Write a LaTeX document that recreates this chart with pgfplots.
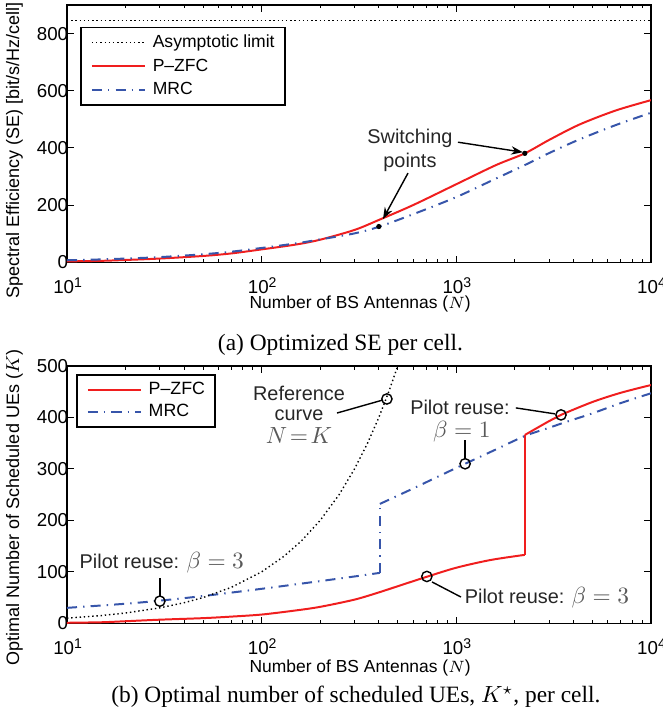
\documentclass[border=0pt]{standalone}
\usepackage{pgfplots}
\pgfplotsset{compat=1.18}
\usepackage{fontspec}
\setmainfont{Liberation Sans}
\newfontfamily\capfont{Liberation Serif}
\usetikzlibrary{arrows.meta}
\definecolor{zfred}{RGB}{240,30,30}
\definecolor{mrcblue}{RGB}{55,85,170}
\newcommand{\annfont}{\fontsize{8.5}{10.3}\selectfont}
\newcommand{\annmath}{\fontsize{9.6}{11}\selectfont}

\tikzset{
  zfcline/.style={zfred, line width=0.85pt, solid},
  mrcline/.style={mrcblue, line width=0.85pt, dash pattern=on 4.3pt off 2.6pt on 0.6pt off 2.6pt},
  refdots/.style={black, line width=0.6pt, dash pattern=on 0.6pt off 1.2pt},
}

\begin{document}
\begin{tikzpicture}
\path[use as bounding box] (0,0) rectangle (283.3pt,-307.3pt);

% ---------------- (a) ----------------
\begin{axis}[
  xmode=log,
  scale only axis, width=249.57pt, height=109.96pt,
  xmin=10, xmax=10000,
  xtick={10,100,1000,10000},
  xticklabels={10\textsuperscript{1},10\textsuperscript{2},10\textsuperscript{3},10\textsuperscript{4}},
  minor xtick={20,30,40,50,60,70,80,90,200,300,400,500,600,700,800,900,2000,3000,4000,5000,6000,7000,8000,9000},
  tick align=inside,
  major tick length=2.8pt, minor tick length=1.5pt,
  every tick/.style={black, line width=0.45pt},
  axis line style={line width=0.65pt},
  tick label style={font=\fontsize{8}{9.6}\selectfont},
  yticklabel style={xshift=4pt},
  yticklabel={\pgfmathprintnumber[assume math mode=true]{\tick}},
  xticklabel style={yshift=-3pt, xshift=0.5pt},
  xlabel={Number of BS Antennas ($N$)},
  xlabel style={font=\fontsize{7.45}{9}\selectfont, at={(axis description cs:0.502,-0.162)}, anchor=center},
  at={(28.63pt,-112.09pt)}, anchor=south west,
  ymin=0, ymax=900, ytick={0,200,400,600,800},
  ylabel={Spectral Efficiency ($\mathrm{SE}$) [bit/s/Hz/cell]},
  ylabel style={font=\fontsize{7.7}{9}\selectfont, at={(axis description cs:-0.0899,0.436)}, anchor=center},
  legend image code/.code={\draw[#1] (0pt,0pt) -- (22.6pt,0pt);},
  legend cell align=left,
  legend style={at={(0.0223,0.9157)}, anchor=north west,
    draw=black, line width=0.7pt,
    font=\fontsize{7.5}{9}\selectfont,
    inner xsep=4.3pt, inner ysep=2.9pt, row sep=2.9pt,
    nodes={inner sep=0pt, text height=5.6pt, text depth=1.6pt},
    /tikz/every odd column/.append style={column sep=3pt}},
]
\addplot[refdots] coordinates {(10,845) (10000,845)};
\addlegendentry{Asymptotic limit}
\addplot[zfcline, smooth] coordinates {
(10,3) (15,5) (20,8) (30,13) (50,22) (70,31) (100,45) (150,62) (200,79)
(300,113) (400,148) (600,200) (1000,273) (1600,340) (2250,381) (3000,428)
(4300,482) (6600,531) (10000,567)};
\addlegendentry{P--ZFC}
\addplot[mrcline, smooth] coordinates {
(10,7) (15,10) (20,13) (30,18) (50,28) (70,37) (100,50) (150,66) (200,80)
(300,101) (400,124) (600,168) (1000,228) (1600,293) (2250,340) (3000,382)
(4300,430) (6600,480) (10000,523)};
\addlegendentry{MRC}
\addplot[only marks, mark=*, mark size=0.9pt, black, forget plot] coordinates {(400,125) (2250,381)};
\node[font=\annfont, align=center, text=black!85] at (axis cs:578,392) {Switching\\points};
\draw[-{Stealth[length=5pt,width=3.6pt]}, line width=0.6pt] (axis cs:1020,420) -- (axis cs:2198,385);
\draw[-{Stealth[length=5pt,width=3.6pt]}, line width=0.6pt] (axis cs:565,312) -- (axis cs:420,151);
\end{axis}

\node[font=\capfont\fontsize{10}{12}\selectfont] at (145.5pt,-147.4pt) {(a) Optimized SE per cell.};

% ---------------- (b) ----------------
\begin{axis}[
  xmode=log,
  scale only axis, width=249.57pt, height=109.96pt,
  xmin=10, xmax=10000,
  xtick={10,100,1000,10000},
  xticklabels={10\textsuperscript{1},10\textsuperscript{2},10\textsuperscript{3},10\textsuperscript{4}},
  minor xtick={20,30,40,50,60,70,80,90,200,300,400,500,600,700,800,900,2000,3000,4000,5000,6000,7000,8000,9000},
  tick align=inside,
  major tick length=2.8pt, minor tick length=1.5pt,
  every tick/.style={black, line width=0.45pt},
  axis line style={line width=0.65pt},
  tick label style={font=\fontsize{8}{9.6}\selectfont},
  yticklabel style={xshift=4pt},
  yticklabel={\pgfmathprintnumber[assume math mode=true]{\tick}},
  xticklabel style={yshift=-3pt, xshift=0.5pt},
  xlabel={Number of BS Antennas ($N$)},
  xlabel style={font=\fontsize{7.45}{9}\selectfont, at={(axis description cs:0.502,-0.174)}, anchor=center},
  at={(28.63pt,-266.39pt)}, anchor=south west,
  ymin=0, ymax=500, ytick={0,100,200,300,400,500},
  ylabel={Optimal Number of Scheduled UEs ($K$)},
  ylabel style={font=\fontsize{7.7}{9}\selectfont, at={(axis description cs:-0.0899,0.45)}, anchor=center},
  legend image code/.code={\draw[#1] (0pt,0pt) -- (22.6pt,0pt);},
  legend cell align=left,
  legend style={at={(0.0154,0.969)}, anchor=north west,
    draw=black, line width=0.7pt,
    font=\fontsize{7.6}{9}\selectfont,
    inner xsep=4.3pt, inner ysep=2.9pt, row sep=2.1pt,
    nodes={inner sep=0pt, text height=5.6pt, text depth=1.6pt},
    /tikz/every odd column/.append style={column sep=3pt}},
]
\addplot[zfcline, smooth] coordinates {
(10,1) (15,2) (20,4) (30,7) (50,10) (70,13) (100,17) (150,25) (200,32)
(300,46) (400,60) (500,72) (700,90) (1000,108) (1500,123) (2250,133)};
\addlegendentry{P--ZFC}
\addplot[mrcline, smooth] coordinates {
(10,30) (20,38) (30,44) (50,53) (100,67) (200,82) (300,91) (405,98)};
\addlegendentry{MRC}
\addplot[zfcline, forget plot] coordinates {(2250,133) (2250,366)};
\addplot[zfcline, smooth, forget plot] coordinates {
(2250,366) (3000,393) (3450,405) (5000,430) (7000,448) (10000,463)};
\addplot[mrcline, forget plot] coordinates {(405,98) (405,232)};
\addplot[mrcline, smooth, forget plot] coordinates {
(405,232) (600,262) (1000,302) (1500,333) (2250,364) (3000,380) (3450,388)
(5000,408) (7000,428) (10000,447)};
\addplot[refdots, forget plot] coordinates {
(10,10) (15,15) (20,20) (30,30) (40,40) (50,50) (70,70) (100,100) (130,130)
(160,160) (200,200) (250,250) (300,300) (350,350) (400,400) (450,450)
(500,500) (520,520)};
\addplot[only marks, mark=o, mark size=2.2pt, black, line width=0.6pt, forget plot]
  coordinates {(30,43) (706,91) (1110,310) (3451,405) (440,436)};
\node[font=\annfont, text=black!85] at (axis cs:155.6,447.3) {Reference};
\node[font=\annfont, text=black!85] at (axis cs:155.6,404.6) {curve};
\node[font=\annmath, text=black!65] at (axis cs:155.6,365.7) {$N\!=\!K$};
\draw[line width=0.6pt] (axis cs:243.8,408.6) -- (axis cs:420,434);
\node[font=\annfont, text=black!85] at (axis cs:1045,420) {Pilot reuse:};
\node[font=\annmath, text=black!65] at (axis cs:1069,372) {$\beta=1$};
\draw[line width=0.6pt] (axis cs:2023,418.6) -- (axis cs:3214,407);
\draw[line width=0.6pt] (axis cs:1110,356) -- (axis cs:1110,319);
\node[font=\annfont, text=black!85] at (axis cs:30.7,117.2) {Pilot reuse: {\annmath\color{black!65}$\beta=3$}};
\draw[line width=0.6pt] (axis cs:30,88) -- (axis cs:30,53);
\node[font=\annfont, text=black!85] at (axis cs:2924,49) {Pilot reuse: {\annmath\color{black!65}$\beta=3$}};
\draw[line width=0.6pt] (axis cs:750,80.4) -- (axis cs:1057,51);
\end{axis}

\node[font=\capfont\fontsize{10}{12}\selectfont] at (152.1pt,-297.9pt) {(b) Optimal number of scheduled UEs, $K^\star$, per cell.};
\end{tikzpicture}
\end{document}
